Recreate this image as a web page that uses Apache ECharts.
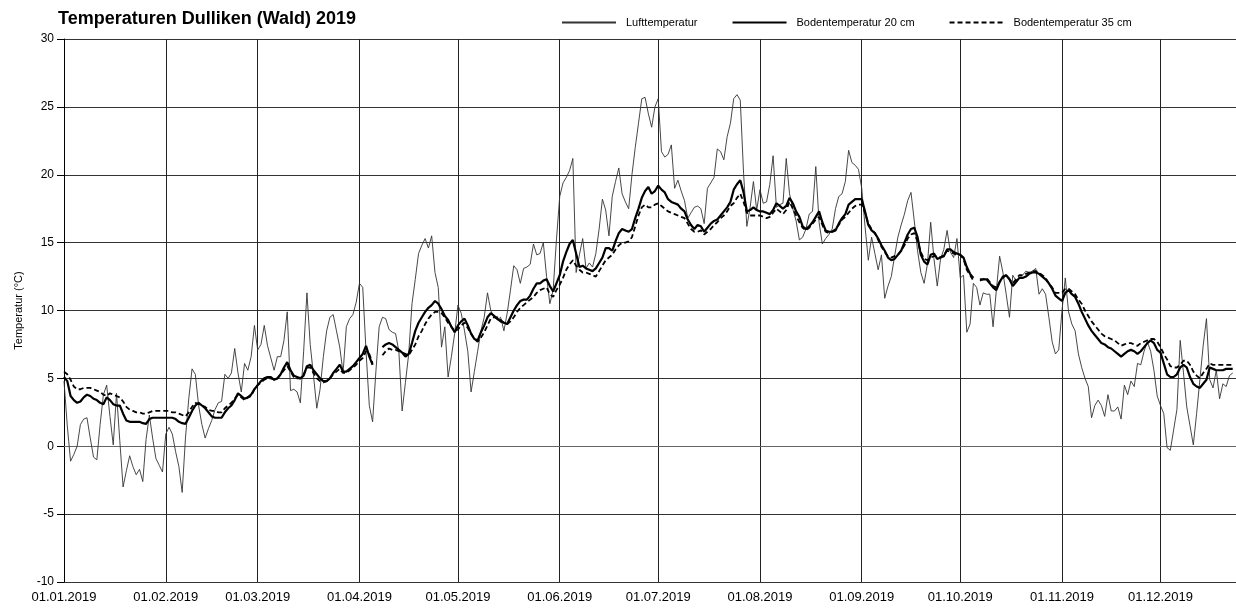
<!DOCTYPE html>
<html>
<head>
<meta charset="utf-8">
<title>Temperaturen Dulliken (Wald) 2019</title>
<script src="https://cdn.jsdelivr.net/npm/echarts@6/dist/echarts.min.js"></script>
<style>
  html, body { margin: 0; padding: 0; background: #fff; }
  #chart { width: 1236px; height: 612px; }
</style>
</head>
<body>
<div id="chart"></div>
<script>
  // Tageswerte ab 01.01.2019, eine Zeile pro Monat
  const lufttemperatur = [
    4.8, 1.5, -1.1, -0.6, 0.0, 1.6, 2.0, 2.1, 0.6, -0.8, -1.0, 1.6, 3.8, 4.5, 2.2, 0.1, 3.9, 0.4, -3.0, -1.8, -0.7, -1.5, -2.1, -1.7, -2.6, 0.5, 2.3, 0.6, -0.9, -1.4, -1.9,
    0.9, 1.4, 0.9, -0.4, -1.5, -3.4, 0.6, 3.5, 5.7, 5.3, 3.0, 1.6, 0.6, 1.3, 1.9, 2.7, 3.2, 3.3, 5.3, 5.0, 5.4, 7.2, 5.4, 4.0, 6.1, 5.6, 6.6, 8.9,
    7.1, 7.5, 8.9, 7.4, 6.5, 5.6, 6.6, 6.6, 7.8, 9.9, 4.1, 4.2, 4.0, 3.2, 7.0, 11.3, 7.5, 5.2, 2.8, 4.2, 6.6, 8.5, 9.5, 9.7, 8.5, 7.3, 5.4, 8.8, 9.4, 9.7, 10.6,
    12.0, 11.7, 7.0, 3.0, 1.8, 5.5, 8.8, 9.5, 9.4, 8.6, 8.4, 8.3, 7.0, 2.6, 4.7, 6.8, 10.5, 12.3, 14.2, 14.8, 15.3, 14.6, 15.5, 12.8, 11.7, 7.3, 8.8, 5.1, 6.6, 8.3,
    10.4, 9.8, 8.5, 7.0, 4.0, 5.5, 7.0, 8.5, 9.5, 11.3, 10.0, 9.5, 9.3, 9.5, 8.5, 9.8, 11.5, 13.3, 13.0, 12.0, 13.1, 13.2, 13.4, 14.9, 14.1, 14.2, 15.0, 12.5, 10.5, 11.5, 15.2,
    18.4, 19.4, 19.8, 20.3, 21.2, 12.8, 14.1, 15.3, 13.1, 13.5, 13.2, 14.2, 16.0, 18.2, 17.4, 15.5, 18.4, 19.5, 20.5, 18.6, 18.0, 17.5, 20.0, 22.0, 23.8, 25.6, 25.7, 24.5, 23.5, 25.0,
    25.6, 21.7, 21.3, 21.5, 22.2, 19.0, 19.6, 18.8, 18.1, 16.8, 17.2, 17.6, 17.7, 17.5, 16.4, 19.0, 19.4, 19.8, 21.9, 21.7, 21.1, 22.8, 23.8, 25.6, 25.9, 25.5, 20.1, 16.2, 17.6, 19.5, 17.4,
    18.9, 17.9, 18.0, 19.3, 21.4, 17.6, 17.8, 17.9, 21.2, 18.6, 17.5, 16.6, 15.2, 15.4, 16.0, 17.1, 17.3, 20.6, 16.5, 14.9, 15.3, 15.6, 16.0, 17.5, 18.4, 18.6, 19.5, 21.8, 20.9, 20.7, 20.4,
    19.0, 16.2, 13.7, 15.4, 14.2, 13.0, 14.1, 10.9, 11.8, 12.5, 14.0, 15.4, 16.3, 17.1, 18.1, 18.7, 16.6, 14.4, 12.8, 12.0, 13.4, 16.5, 13.8, 11.8, 13.8, 14.5, 15.9, 14.3, 13.9, 15.3,
    12.4, 12.6, 8.4, 9.0, 12.0, 11.7, 10.4, 11.3, 11.2, 11.2, 8.8, 11.5, 14.0, 12.8, 11.2, 9.5, 12.6, 12.2, 12.4, 12.6, 12.9, 12.8, 12.9, 13.1, 11.2, 11.6, 11.2, 9.5, 7.7, 6.8, 7.1,
    10.0, 12.4, 9.9, 9.0, 8.5, 6.8, 5.8, 5.0, 4.4, 2.1, 3.0, 3.4, 3.0, 2.2, 3.8, 2.6, 2.6, 2.9, 2.0, 4.5, 3.8, 4.8, 4.4, 6.1, 6.0, 7.0, 7.7, 7.0, 5.6, 3.7,
    3.0, 2.4, -0.1, -0.3, 1.2, 2.7, 7.8, 5.4, 2.9, 1.5, 0.1, 2.4, 4.9, 7.4, 9.4, 4.9, 4.3, 5.6, 3.5, 4.6, 4.4, 5.2, 5.4
  ];

  const boden20 = [
    5.1, 4.8, 3.7, 3.4, 3.2, 3.3, 3.6, 3.8, 3.7, 3.5, 3.4, 3.2, 3.1, 3.6, 3.4, 3.1, 3.0, 3.0, 2.4, 1.9, 1.8, 1.8, 1.8, 1.8, 1.7, 1.65, 2.0, 2.1, 2.1, 2.1, 2.1,
    2.1, 2.1, 2.1, 2.0, 1.8, 1.7, 1.65, 2.1, 2.6, 3.0, 3.2, 3.0, 2.8, 2.5, 2.2, 2.1, 2.1, 2.1, 2.5, 2.8, 3.0, 3.4, 3.9, 3.7, 3.5, 3.6, 3.8, 4.2,
    4.5, 4.8, 5.0, 5.1, 5.1, 4.9, 5.0, 5.3, 5.8, 6.2, 5.6, 5.2, 5.1, 5.0, 5.2, 5.9, 6.0, 5.6, 5.3, 5.0, 4.8, 4.8, 5.0, 5.4, 5.7, 6.0, 5.5, 5.5, 5.7, 5.9, 6.2,
    6.5, 6.8, 7.4, 6.6, 6.0, null, null, 7.3, 7.5, 7.6, 7.5, 7.3, 7.1, 6.9, 6.6, 6.8, 7.6, 8.5, 9.1, 9.5, 9.9, 10.2, 10.4, 10.7, 10.5, 10.1, 9.6, 9.3, 8.8, 8.4,
    8.9, 9.2, 9.4, 8.9, 8.3, 7.9, 7.8, 8.4, 8.9, 9.5, 9.8, 9.6, 9.4, 9.2, 9.1, 9.0, 9.5, 10.0, 10.4, 10.7, 10.8, 10.8, 11.1, 11.6, 12.0, 12.0, 12.2, 12.3, 11.8, 11.4, 12.0,
    12.6, 13.6, 14.3, 14.9, 15.2, 14.2, 13.2, 13.3, 13.1, 13.0, 12.9, 13.1, 13.5, 13.9, 14.6, 14.6, 14.4, 15.1, 15.7, 16.0, 15.9, 15.8, 16.0, 16.8, 17.5, 18.3, 18.8, 19.1, 18.6, 18.8,
    19.2, 18.9, 18.7, 18.2, 18.0, 17.9, 17.8, 17.5, 17.3, 16.7, 16.3, 16.0, 16.3, 16.2, 15.8, 16.1, 16.4, 16.6, 16.7, 17.0, 17.3, 17.6, 18.0, 18.9, 19.3, 19.6, 18.7, 17.3, 17.4, 17.6, 17.4,
    17.3, 17.3, 17.2, 17.1, 17.4, 17.9, 17.7, 17.5, 17.7, 18.3, 17.9, 17.3, 16.9, 16.2, 16.0, 16.2, 16.5, 16.9, 17.3, 16.5, 15.9, 15.8, 15.8, 15.9, 16.4, 16.8, 17.1, 17.8, 18.0, 18.2, 18.2,
    18.2, 17.3, 16.3, 15.9, 15.7, 15.3, 14.8, 14.4, 13.9, 13.7, 13.8, 14.1, 14.4, 15.0, 15.6, 16.0, 16.1, 15.4, 14.1, 13.6, 13.4, 14.1, 14.2, 13.8, 13.9, 14.0, 14.5, 14.5, 14.3, 14.2,
    14.1, 13.9, 13.2, 12.7, 12.4, null, 12.3, 12.3, 12.3, 12.0, 11.7, 11.5, 12.1, 12.5, 12.6, 12.3, 11.8, 12.1, 12.4, 12.4, 12.5, 12.7, 12.8, 12.8, 12.7, 12.5, 12.3, 12.0, 11.6, 11.1, 10.9,
    10.7, 11.3, 11.5, 11.2, 11.0, 10.5, 9.9, 9.4, 8.9, 8.5, 8.2, 7.9, 7.6, 7.5, 7.3, 7.2, 7.0, 6.8, 6.6, 6.8, 7.0, 7.1, 7.0, 6.8, 7.0, 7.3, 7.6, 7.8, 7.6, 7.1,
    6.9, 6.1, 5.3, 5.1, 5.1, 5.3, 5.8, 6.0, 5.8, 5.1, 4.6, 4.4, 4.3, 4.6, 4.9, 5.8, 5.7, 5.6, 5.6, 5.6, 5.7, 5.7, 5.7
  ];

  const boden35 = [
    5.5, 5.3, 4.9, 4.4, 4.2, 4.2, 4.3, 4.3, 4.3, 4.2, 4.1, 4.0, 3.8, 3.7, 3.9, 3.8, 3.7, 3.6, 3.3, 2.9, 2.7, 2.6, 2.5, 2.5, 2.4, 2.4, 2.5, 2.6, 2.6, 2.6, 2.6,
    2.6, 2.6, 2.5, 2.5, 2.4, 2.3, 2.2, 2.5, 2.9, 3.2, 3.1, 3.0, 2.9, 2.7, 2.6, 2.6, 2.5, 2.5, 2.8, 3.0, 3.2, 3.5, 3.8, 3.6, 3.4, 3.6, 3.7, 4.2,
    4.5, 4.7, 4.9, 5.0, 5.0, 4.9, 5.0, 5.3, 5.6, 5.9, 5.5, 5.1, 5.0, 5.0, 5.3, 5.8, 5.8, 5.4, 5.0, 4.8, 4.7, 4.8, 5.0, 5.3, 5.5, 5.7, 5.4, 5.4, 5.6, 5.8, 6.0,
    6.3, 6.5, 7.0, 6.8, 6.1, null, null, 6.7, 7.0, 7.2, 7.1, 7.1, 7.0, 6.9, 6.8, 6.7, 7.1, 7.5, 8.1, 8.5, 9.0, 9.4, 9.7, 9.9, 9.9, 9.8, 9.5, 9.1, 8.8, 8.5,
    8.6, 8.9, 9.1, 8.7, 8.3, 7.9, 7.7, 8.0, 8.4, 8.9, 9.4, 9.5, 9.5, 9.3, 9.1, 9.0, 9.2, 9.5, 9.9, 10.2, 10.4, 10.6, 10.8, 11.0, 11.3, 11.5, 11.6, 11.7, 11.2, 11.0, 11.5,
    11.9, 12.4, 13.0, 13.4, 13.7, 13.3, 13.0, 12.8, 12.8, 12.7, 12.6, 12.5, 12.9, 13.3, 13.7, 13.9, 14.1, 14.5, 14.8, 15.0, 15.0, 15.1, 15.4, 16.2, 17.0, 17.6, 17.8, 17.6, 17.6, 17.8,
    17.9, 17.7, 17.5, 17.3, 17.2, 17.1, 17.0, 16.9, 16.8, 16.4, 16.0, 15.8, 15.8, 15.9, 15.6, 15.8, 16.0, 16.3, 16.5, 16.8, 17.0, 17.3, 17.7, 17.9, 18.3, 18.6, 18.0, 17.2, 17.0, 17.0, 17.0,
    17.0, 16.9, 16.8, 16.9, 17.2, 17.5, 17.3, 17.1, 17.4, 18.0, 17.5, 17.0, 16.5, 16.1, 15.9, 16.1, 16.4, 16.7, 16.9, 16.3, 15.8, 15.7, 15.8, 16.0, 16.3, 16.7, 16.9, 17.2, 17.5, 17.7, 17.8,
    17.8, 17.2, 16.4, 16.0, 15.7, 15.2, 14.7, 14.3, 14.0, 13.9, 14.0, 14.1, 14.4, 14.8, 15.3, 15.6, 15.7, 15.1, 14.3, 13.8, 13.7, 13.9, 14.0, 14.0, 13.9, 14.1, 14.4, 14.3, 14.2, 14.1,
    14.1, 13.8, 13.0, 12.6, 12.2, null, 12.2, 12.3, 12.4, 12.1, 11.8, 11.7, 12.1, 12.4, 12.6, 12.3, 12.0, 12.3, 12.6, 12.6, 12.7, 12.8, 12.9, 12.9, 12.8, 12.6, 12.4, 12.0, 11.7, 11.3, 11.3,
    11.3, 11.6, 11.6, 11.4, 11.2, 10.8, 10.5, 10.0, 9.6, 9.2, 8.9, 8.6, 8.3, 8.1, 8.0, 7.9, 7.8, 7.6, 7.4, 7.5, 7.6, 7.6, 7.5, 7.4, 7.6, 7.7, 7.8, 7.9, 7.9, 7.7,
    7.3, 6.8, 6.4, 5.9, 5.8, 5.8, 6.0, 6.3, 6.3, 6.0, 5.5, 5.2, 5.0, 5.4, 5.7, 6.1, 6.0, 6.0, 6.0, 6.0, 6.0, 6.0, 6.0
  ];

  // Beschriftete Ticks (Monatsanfang)
  const monatsTicks = ['01.01.2019', '01.02.2019', '01.03.2019', '01.04.2019', '01.05.2019', '01.06.2019',
    '01.07.2019', '01.08.2019', '01.09.2019', '01.10.2019', '01.11.2019', '01.12.2019'];

  // Kategorien: 01.01.2019 bis 24.12.2019 (Bildrand)
  const tage = [];
  for (let i = 0; i < 358; i++) {
    let d = new Date(Date.UTC(2019, 0, 1) + i * 86400000);
    let dd = String(d.getUTCDate()).padStart(2, '0'),
      mm = String(d.getUTCMonth() + 1).padStart(2, '0');
    tage.push(dd + '.' + mm + '.' + d.getUTCFullYear());
  }

  const istMonatsTick = function (idx, val) {
    return monatsTicks.indexOf(val) >= 0;
  };

  const fontFamily = 'Liberation Sans, Arial, sans-serif';

  let myChart = echarts.init(document.getElementById('chart'), null, {renderer: 'canvas'});
  let option = {
    animation: false,
    backgroundColor: '#fff',
    title: {
      text: 'Temperaturen Dulliken (Wald) 2019',
      left: 53,
      top: 5,
      textStyle: {
        fontFamily: fontFamily,
        fontSize: 18,
        fontWeight: 'bold',
        color: '#000'
      }
    },
    legend: {
      left: 556,
      top: 12,
      itemWidth: 54,
      itemHeight: 10,
      itemGap: 34,
      // nur die Linie im Legendensymbol, kein Punkt
      itemStyle: {opacity: 0},
      textStyle: {
        fontFamily: fontFamily,
        fontSize: 11,
        color: '#000',
        padding: [0, 0, 0, 5]
      },
      data: ['Lufttemperatur', 'Bodentemperatur 20 cm', 'Bodentemperatur 35 cm']
    },
    grid: {
      left: 64,
      right: 0,
      top: 39,
      bottom: 30,
      containLabel: false
    },
    xAxis: {
      type: 'category',
      boundaryGap: false,
      data: tage,
      axisLine: {
        lineStyle: {color: '#666', width: 1}
      },
      axisTick: {show: false},
      axisLabel: {
        interval: istMonatsTick,
        margin: 9,
        fontFamily: fontFamily,
        fontSize: 13,
        color: '#000'
      },
      splitLine: {
        show: true,
        interval: istMonatsTick,
        lineStyle: {color: '#222', width: 1}
      }
    },
    yAxis: {
      type: 'value',
      min: -10,
      max: 30,
      interval: 5,
      name: 'Temperatur (°C)',
      nameLocation: 'middle',
      nameGap: 40,
      nameTextStyle: {
        fontFamily: fontFamily,
        fontSize: 11,
        color: '#000'
      },
      axisLine: {
        show: true,
        lineStyle: {color: '#000', width: 1}
      },
      axisTick: {
        show: true,
        length: 7,
        lineStyle: {color: '#000'}
      },
      axisLabel: {
        margin: 10,
        fontFamily: fontFamily,
        fontSize: 12,
        color: '#000'
      },
      splitLine: {
        show: true,
        lineStyle: {color: '#333', width: 1}
      }
    },
    series: [
      {
        name: 'Lufttemperatur',
        type: 'line',
        data: lufttemperatur,
        symbol: 'none',
        lineStyle: {color: '#333', width: 0.9},
        itemStyle: {color: '#333'}
      },
      {
        name: 'Bodentemperatur 20 cm',
        type: 'line',
        data: boden20,
        symbol: 'none',
        lineStyle: {color: '#000', width: 2.2},
        itemStyle: {color: '#000'}
      },
      {
        name: 'Bodentemperatur 35 cm',
        type: 'line',
        data: boden35,
        symbol: 'none',
        lineStyle: {color: '#000', width: 1.8, type: [5, 3]},
        itemStyle: {color: '#000'}
      }
    ]
  };
  myChart.setOption(option);
</script>
</body>
</html>
